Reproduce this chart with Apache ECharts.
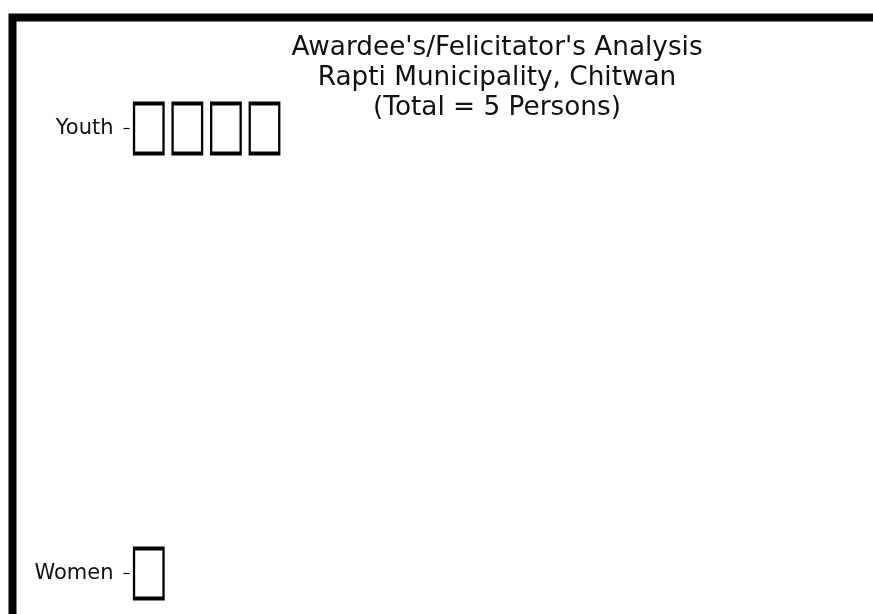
<!DOCTYPE html>
<html>
<head>
<meta charset="utf-8">
<script src="https://cdn.jsdelivr.net/npm/echarts@6/dist/echarts.min.js"></script>
<style>
html,body{margin:0;padding:0;background:#fff;}
#chart{width:873px;height:614px;}
</style>
</head>
<body>
<div id="chart"></div>
<script>
// Data
var categories = ['Women', 'Youth'];
var counts = [1, 4];
var titleLines = ["Awardee's/Felicitator's Analysis", "Rapti Municipality, Chitwan", "(Total = 5 Persons)"];

var points = [];
categories.forEach(function (c, ci) {
  for (var k = 1; k <= counts[ci]; k++) points.push([k, c]);
});

var FONT = "'DejaVu Sans', sans-serif";
var chart = echarts.init(document.getElementById('chart'), null, {renderer: 'canvas'});
chart.setOption({
  animation: false,
  backgroundColor: '#ffffff',
  title: {
    text: titleLines.join('\n'),
    left: 497,
    textAlign: 'center',
    top: 33,
    padding: 0,
    textStyle: {
      fontFamily: FONT,
      fontSize: 26.3,
      fontWeight: 'normal',
      color: '#111',
      lineHeight: 30
    }
  },
  grid: {left: 129.5, right: 30, top: 128.5, bottom: 40.5, containLabel: false},
  xAxis: {
    type: 'value',
    min: 0.5,
    max: 19,
    show: false
  },
  yAxis: {
    type: 'category',
    data: categories,
    boundaryGap: false,
    axisLine: {show: false},
    axisTick: {show: true, length: 6, lineStyle: {color: '#000', width: 1.2}},
    axisLabel: {
      margin: 16,
      fontFamily: FONT,
      fontSize: 21,
      color: '#111'
    },
    splitLine: {show: false}
  },
  series: [{
    type: 'scatter',
    data: points,
    symbol: 'rect',
    symbolSize: [29.5, 50],
    itemStyle: {color: '#fff', borderColor: '#000', borderWidth: 3, opacity: 1}
  }],
  graphic: [{
    type: 'rect',
    shape: {x: 12.5, y: 17.5, width: 1200, height: 1200},
    style: {fill: null, stroke: '#000', lineWidth: 8},
    silent: true,
    z: 100
  }]
});
</script>
</body>
</html>
